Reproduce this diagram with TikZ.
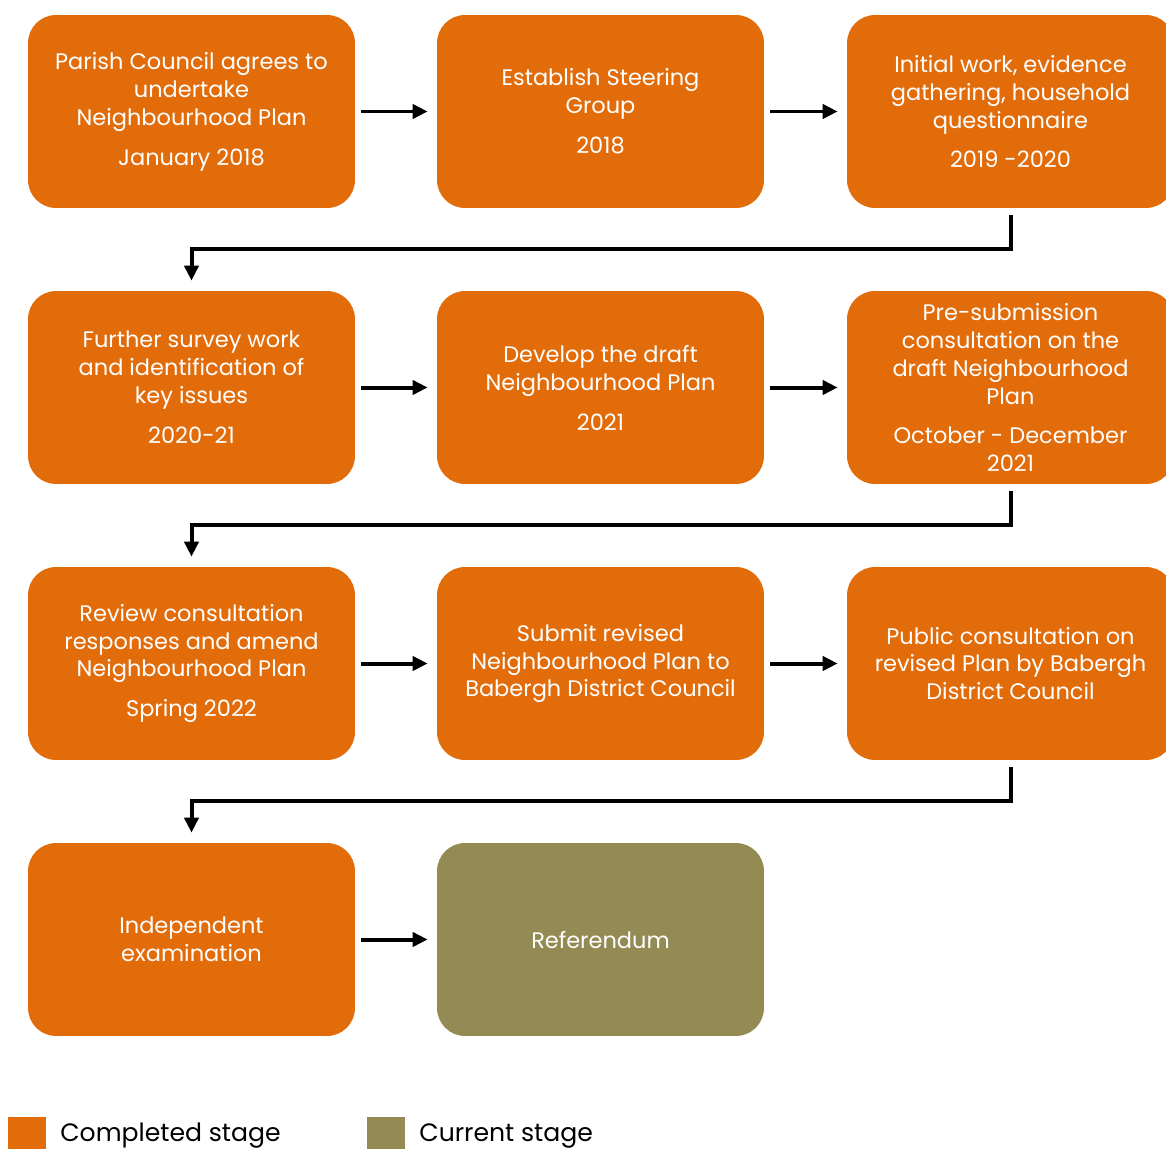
\documentclass[tikz,border=0pt]{standalone}
\usepackage{fontspec}
\setmainfont{Poppins}
\usetikzlibrary{arrows.meta}
\definecolor{done}{HTML}{E36C0A}
\definecolor{current}{HTML}{948A54}
\tikzset{
  stage/.style={fill=done, text=white, rounded corners=0.56cm, minimum width=6.54cm, minimum height=3.86cm,
    align=center, inner sep=0pt, font=\fontsize{12.8}{15.9}\selectfont},
  link/.style={-{Triangle[length=0.3cm,width=0.28cm]}, line width=0.08cm},
  key/.style={anchor=base west, inner sep=0pt, font=\fontsize{14.3}{17}\selectfont},
}

\begin{document}
\begin{tikzpicture}[x=0.02cm, y=-0.02cm]
        \clip (0,0) rectangle (1166,1149);
        % first row
        \node[stage] (parish) at (191.5,111.5) {Parish Council agrees to\\undertake\\Neighbourhood Plan\\[0.24cm]January 2018};
        \node[stage] (steering) at (600.5,111.5) {Establish Steering\\Group\\[0.24cm]2018};
        \node[stage] (evidence) at (1010.5,111.5) {Initial work, evidence\\gathering, household\\questionnaire\\[0.24cm]2019 -2020};
        % second row
        \node[stage] (survey) at (191.5,387.5) {Further survey work\\and identification of\\key issues\\[0.24cm]2020-21};
        \node[stage] (draft) at (600.5,387.5) {Develop the draft\\Neighbourhood Plan\\[0.24cm]2021};
        \node[stage] (presub) at (1010.5,387.5) {Pre-submission\\consultation on the\\draft Neighbourhood\\Plan\\[0.24cm]October - December\\2021};
        % third row
        \node[stage] (review) at (191.5,663.5) {Review consultation\\responses and amend\\Neighbourhood Plan\\[0.24cm]Spring 2022};
        \node[stage] (submit) at (600.5,663.5) {Submit revised\\Neighbourhood Plan to\\Babergh District Council};
        \node[stage] (public) at (1010.5,663.5) {Public consultation on\\revised Plan by Babergh\\District Council};
        % fourth row
        \node[stage] (exam) at (191.5,939.5) {Independent\\examination};
        \node[stage, fill=current] (referendum) at (600.5,939.5) {Referendum};

        \draw[link, shorten <=0.12cm, shorten >=0.18cm] (parish) -- (steering);
        \draw[link, shorten <=0.12cm, shorten >=0.18cm] (steering) -- (evidence);
        \draw[link, shorten <=0.12cm, shorten >=0.18cm] (survey) -- (draft);
        \draw[link, shorten <=0.12cm, shorten >=0.18cm] (draft) -- (presub);
        \draw[link, shorten <=0.12cm, shorten >=0.18cm] (review) -- (submit);
        \draw[link, shorten <=0.12cm, shorten >=0.18cm] (submit) -- (public);
        \draw[link, shorten <=0.12cm, shorten >=0.18cm] (exam) -- (referendum);
        \draw[link, shorten <=0.14cm, shorten >=0.2cm] (evidence.south) -- ++(0,41) -| (survey.north);
        \draw[link, shorten <=0.14cm, shorten >=0.2cm] (presub.south) -- ++(0,41) -| (review.north);
        \draw[link, shorten <=0.14cm, shorten >=0.2cm] (public.south) -- ++(0,41) -| (exam.north);

        % legend
        \fill[done] (8,1117) rectangle (46,1155);
        \node[key] (donekey) at (60,1141) {Completed stage};
        \fill[current] (367,1117) rectangle (405,1155);
        \node[key] (currentkey) at (419,1141) {Current stage};
    \end{tikzpicture}
\end{document}
